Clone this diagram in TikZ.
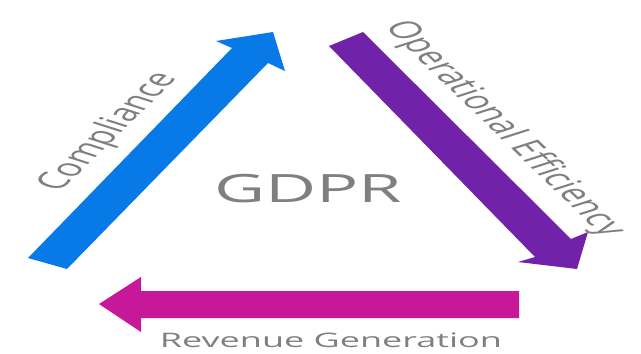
\documentclass[tikz,border=0pt]{standalone}
\usepackage{fontspec}
\newfontfamily\ofont{Open Sans}

\definecolor{cblue}{RGB}{8,122,232}
\definecolor{cpurple}{RGB}{112,34,168}
\definecolor{cmagenta}{RGB}{199,24,153}
\definecolor{txtgray}{RGB}{127,127,127}

\begin{document}
\begin{tikzpicture}[x=1pt,y=-1pt,
    lbl/.style={text=txtgray,inner sep=0pt,xscale=1.8}]

            %\draw [help lines,step=20] (0,0) grid (641,354);
            \useasboundingbox (0,0) rectangle (641,354);

            % the three arrows
            \fill[cblue] (28,258) -- (232,48) -- (216,41) -- (273,32)
                    -- (285,71) -- (268,63) -- (67,269) -- cycle;
            \fill[cpurple] (329,46) -- (363,32) -- (571,239) -- (588,232)
                    -- (577,269) -- (518,262) -- (535,257) -- cycle;
            \fill[cmagenta] (519,291) -- (141,291) -- (141,277) -- (99,304)
                    -- (141,332) -- (141,318) -- (519,318) -- cycle;

            \path   (308,189) node (gdpr) [lbl,font=\ofont\fontsize{39}{39}\selectfont] {GDPR}
                    (109,132) node (comp) [lbl,rotate=60,font=\ofont\fontsize{24}{24}\selectfont] {Compliance}
                    (504,129) node (oper) [lbl,rotate=-60,font=\ofont\fontsize{24}{24}\selectfont] {Operational Efficiency}
                    (331,340) node (rev)  [lbl,font=\ofont\fontsize{20}{20}\selectfont] {Revenue Generation};

        \end{tikzpicture}
\end{document}
